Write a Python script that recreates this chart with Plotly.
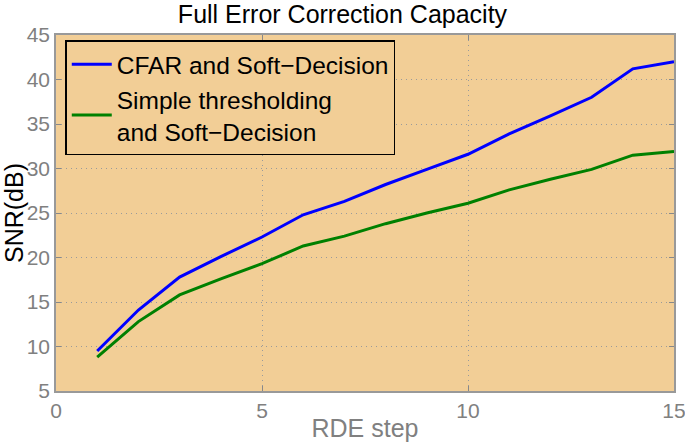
import plotly.graph_objects as go

steps = list(range(1, 16))
cfar_soft = [9.5, 14.1, 17.8, 20.1, 22.3, 24.8, 26.3, 28.2, 29.9, 31.6, 33.9, 35.9, 38.0, 41.2, 42.0]
simple_soft = [8.8, 12.8, 15.8, 17.6, 19.3, 21.3, 22.4, 23.8, 25.0, 26.1, 27.6, 28.8, 29.9, 31.5, 31.9]
x_ticks = [0, 5, 10, 15]
y_ticks = [5, 10, 15, 20, 25, 30, 35, 40, 45]

FONT = "Liberation Sans, Arial, Helvetica, sans-serif"
BG = "#F2CE96"

W, H = 685, 442

fig = go.Figure()
fig.add_trace(go.Scatter(x=steps, y=cfar_soft, mode="lines",
                         name="CFAR and Soft\u2212Decision",
                         line=dict(color="#0000FF", width=3)))
fig.add_trace(go.Scatter(x=steps, y=simple_soft, mode="lines",
                         name="Simple thresholding<br>and Soft\u2212Decision",
                         line=dict(color="#008000", width=3)))

axis_common = dict(showline=True, linecolor="#999999", linewidth=1.5, mirror="ticks",
                   ticks="inside", ticklen=5, tickcolor="#888888", automargin=False,
                   ticklabeloverflow="allow",
                   showgrid=True, gridcolor="#9A9A9A", griddash="1px,4px", gridwidth=1,
                   zeroline=False, tickfont=dict(family=FONT, size=21, color="#808080"))

fig.update_layout(
    width=W, height=H,
    paper_bgcolor="white", plot_bgcolor=BG,
    margin=dict(l=56, r=11, t=35, b=51),
    title=dict(text="Full Error Correction Capacity", x=0.5, xanchor="center",
               y=1 - 14 / H, yanchor="middle", yref="container",
               font=dict(family=FONT, size=25, color="black")),
    xaxis=dict(range=[0, 15], tickvals=x_ticks,
               title=dict(text="RDE step", font=dict(family=FONT, size=25, color="#808080"), standoff=2),
               **axis_common),
    yaxis=dict(range=[5, 45], tickvals=y_ticks,
               title=dict(text="SNR(dB)", font=dict(family=FONT, size=25, color="black"), standoff=0),
               **axis_common),
    legend=dict(x=0.015, y=0.985, xanchor="left", yanchor="top",
                bgcolor=BG, bordercolor="black", borderwidth=1.5,
                font=dict(family=FONT, size=24.5, color="black"),
                tracegroupgap=0, itemwidth=40),
    showlegend=True,
)

fig.write_html("out.html", config={"displayModeBar": False},
               post_script="document.body.style.margin='0';document.body.style.overflow='hidden';")
